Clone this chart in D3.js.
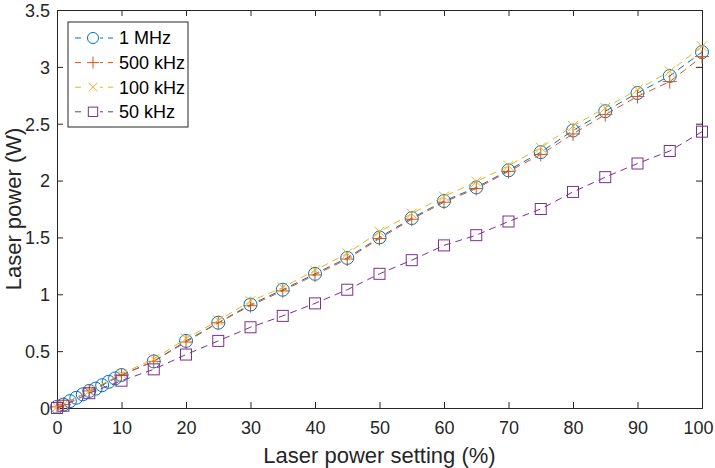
<!DOCTYPE html>
<html>
<head>
<meta charset="utf-8">
<script src="https://cdn.jsdelivr.net/npm/d3@7"></script>
<style>
  body { margin: 0; background: #fff; }
  svg { display: block; font-family: "Liberation Sans", Arial, sans-serif; }
</style>
</head>
<body>
<div id="chart"></div>
<script>
// Data
const xFine = [0, 1, 2, 3, 4, 5, 6, 7, 8, 9, 10, 15, 20, 25, 30, 35, 40, 45, 50, 55, 60, 65, 70, 75, 80, 85, 90, 95, 100];
const xCoarse = [0, 1, 5, 10, 15, 20, 25, 30, 35, 40, 45, 50, 55, 60, 65, 70, 75, 80, 85, 90, 95, 100];

const power1MHz = [0.01, 0.03, 0.06, 0.09, 0.12, 0.15, 0.17, 0.20, 0.23, 0.26, 0.29, 0.41, 0.59, 0.75, 0.91, 1.04, 1.18, 1.32, 1.50, 1.67, 1.82, 1.94, 2.09, 2.25, 2.44, 2.61, 2.77, 2.92, 3.13];
const power500kHz = [0.01, 0.03, 0.15, 0.29, 0.41, 0.58, 0.75, 0.90, 1.03, 1.17, 1.31, 1.49, 1.66, 1.81, 1.93, 2.08, 2.23, 2.41, 2.58, 2.74, 2.87, 3.09];
const power100kHz = [0.01, 0.03, 0.15, 0.30, 0.43, 0.61, 0.77, 0.94, 1.06, 1.21, 1.36, 1.55, 1.71, 1.86, 1.99, 2.13, 2.29, 2.48, 2.64, 2.80, 2.96, 3.18];
const power50kHz = [0.00, 0.02, 0.13, 0.24, 0.34, 0.47, 0.59, 0.71, 0.81, 0.92, 1.04, 1.18, 1.30, 1.43, 1.52, 1.64, 1.75, 1.90, 2.03, 2.15, 2.26, 2.43];

const seriesNames = ["1 MHz", "500 kHz", "100 kHz", "50 kHz"];
const seriesColors = ["#0072BD", "#D95319", "#EDB120", "#7E2F8E"];
const seriesMarkers = ["circle", "plus", "cross", "square"];

const xTicks = [0, 10, 20, 30, 40, 50, 60, 70, 80, 90, 100];
const yTicks = [0, 0.5, 1, 1.5, 2, 2.5, 3, 3.5];

const series = [
  { xs: xFine, ys: power1MHz },
  { xs: xCoarse, ys: power500kHz },
  { xs: xCoarse, ys: power100kHz },
  { xs: xCoarse, ys: power50kHz }
].map((s, i) => ({
  name: seriesNames[i],
  color: seriesColors[i],
  marker: seriesMarkers[i],
  points: s.xs.map((x, j) => ({ x: x, y: s.ys[j] }))
}));

const W = 715, H = 468;
const margin = { top: 10, right: 13, bottom: 60, left: 57 };
const width = W - margin.left - margin.right;
const height = H - margin.top - margin.bottom;
const axisColor = "#262626";

const svg = d3.select("#chart").append("svg")
  .attr("width", W)
  .attr("height", H);

const g = svg.append("g")
  .attr("transform", `translate(${margin.left},${margin.top})`);

const x = d3.scaleLinear().domain([0, 100]).range([0, width]);
const y = d3.scaleLinear().domain([0, 3.5]).range([height, 0]);

// Axes (MATLAB style: ticks inside, box on)
const tickLen = 6;
const xAxis = g.append("g")
  .attr("transform", `translate(0,${height})`)
  .call(d3.axisBottom(x).tickValues(xTicks).tickSize(-tickLen).tickPadding(13).tickFormat(d3.format("d")));
const yAxis = g.append("g")
  .call(d3.axisLeft(y).tickValues(yTicks).tickSize(-tickLen).tickPadding(7).tickFormat(d => d));
const xTop = g.append("g")
  .call(d3.axisTop(x).tickValues(xTicks).tickSize(-tickLen).tickFormat(""));
const yRight = g.append("g")
  .attr("transform", `translate(${width},0)`)
  .call(d3.axisRight(y).tickValues(yTicks).tickSize(-tickLen).tickFormat(""));

[xAxis, yAxis, xTop, yRight].forEach(a => {
  a.selectAll("path, line").attr("stroke", axisColor).attr("stroke-width", 1);
  a.selectAll("text").attr("fill", axisColor).style("font-size", "18px");
});
yAxis.selectAll("text").attr("dy", "0.35em");
// keep the last x label inside the window
xAxis.selectAll(".tick text").filter(d => d === 100).attr("dx", "-4");

// Axis labels
svg.append("text")
  .attr("x", margin.left + width / 2)
  .attr("y", 463)
  .attr("text-anchor", "middle")
  .attr("fill", axisColor)
  .style("font-size", "22px")
  .text("Laser power setting (%)");

svg.append("text")
  .attr("transform", `translate(21,${margin.top + height / 2}) rotate(-90)`)
  .attr("text-anchor", "middle")
  .attr("fill", axisColor)
  .style("font-size", "22px")
  .text("Laser power (W)");

// Marker drawing
function drawMarker(sel, type, color, k) {
  k = k || 1;
  if (type === "circle") {
    sel.append("circle").attr("r", 6.5 * k).attr("fill", "none").attr("stroke", color).attr("stroke-width", 1);
  } else if (type === "square") {
    sel.append("rect").attr("x", -5.5 * k).attr("y", -5.5 * k).attr("width", 11 * k).attr("height", 11 * k)
      .attr("fill", "none").attr("stroke", color).attr("stroke-width", 1);
  } else if (type === "plus") {
    const a = 7 * k;
    sel.append("path").attr("d", `M${-a},0H${a}M0,${-a}V${a}`).attr("stroke", color).attr("stroke-width", 1).attr("fill", "none");
  } else if (type === "cross") {
    const a = 5 * k;
    sel.append("path").attr("d", `M${-a},${-a}L${a},${a}M${-a},${a}L${a},${-a}`).attr("stroke", color).attr("stroke-width", 1).attr("fill", "none");
  }
}

const line = d3.line().x(d => x(d.x)).y(d => y(d.y));

const plot = g.append("g");
series.forEach(s => {
  const sg = plot.append("g");
  sg.append("path")
    .datum(s.points)
    .attr("d", line)
    .attr("fill", "none")
    .attr("stroke", s.color)
    .attr("stroke-width", 1)
    .attr("stroke-dasharray", "7,5");
  sg.selectAll("g.pt")
    .data(s.points)
    .join("g")
    .attr("class", "pt")
    .attr("transform", d => `translate(${x(d.x)},${y(d.y)})`)
    .each(function() { drawMarker(d3.select(this), s.marker, s.color); });
});

// Legend
const legend = svg.append("g").attr("transform", "translate(68,22)");
legend.append("rect")
  .attr("width", 120).attr("height", 105)
  .attr("fill", "#fff").attr("stroke", axisColor).attr("stroke-width", 1);
series.forEach((s, i) => {
  const row = legend.append("g").attr("transform", `translate(0,${16 + i * 24.6})`);
  row.append("path").attr("d", "M7,0H45")
    .attr("stroke", s.color).attr("stroke-width", 1).attr("stroke-dasharray", "6,5");
  const m = row.append("g").attr("transform", "translate(25,0)");
  m.append("rect").attr("x", -7).attr("y", -7).attr("width", 14).attr("height", 14).attr("fill", "#fff");
  drawMarker(m, s.marker, s.color, 0.85);
  row.append("text").attr("x", 51).attr("dy", "0.35em")
    .attr("fill", "#000").style("font-size", "18px").text(s.name);
});
</script>
</body>
</html>
